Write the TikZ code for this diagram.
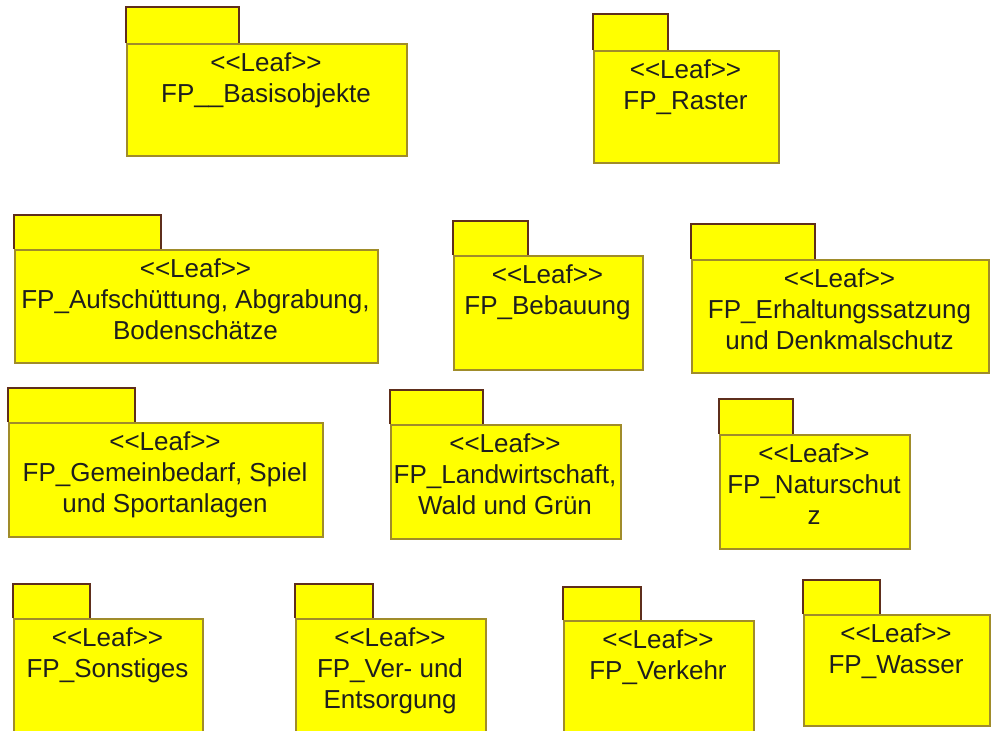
\documentclass[tikz,border=0pt]{standalone}
\usepackage{fontspec}
\setmainfont[Ligatures=NoCommon]{Liberation Sans}
\definecolor{pkgfill}{HTML}{FFFF00}
\definecolor{tabline}{HTML}{5E2E1C}
\definecolor{bodyline}{HTML}{A08C2A}
\definecolor{pkgtext}{HTML}{1E1E1E}
\tikzset{
  tabstyle/.style={fill=pkgfill, draw=tabline, line width=1.6pt},
  bodystyle/.style={fill=pkgfill, draw=bodyline, line width=1.6pt, rectangle, inner sep=0pt},
  labelstyle/.style={align=center, inner sep=0pt, text=pkgtext,
    font=\fontsize{26}{31}\selectfont},
}
\newcommand\leafst{<{}<Leaf>{}>}
% #1 name, #2 left, #3 tab top, #4 tab right, #5 body top, #6 body right, #7 body bottom, #8 text
\newcommand\umlpkg[8]{%
  \filldraw[tabstyle] (#2,#5) -- (#2,#3) -- (#4,#3) -- (#4,#5);
  \node[bodystyle, anchor=north west, minimum width={(#6-#2)*1pt}, minimum height={(#7-#5)*1pt}] (#1) at (#2,#5) {};
  \node[labelstyle, anchor=north] (#1-label) at ({(#2+#6)/2},#5+9) {#8};
}
\begin{document}
\begin{tikzpicture}[x=1pt,y=-1pt]
\useasboundingbox (0,0) rectangle (991,731);
\fill[white] (0,0) rectangle (991,731);
\umlpkg{basis}{126}{7}{239}{43}{406}{155}{\leafst\\FP\_\_Basisobjekte}
\umlpkg{raster}{593}{14}{668}{50}{778}{162}{\leafst\\FP\_Raster}
\umlpkg{aufsch}{14}{215}{161}{249}{377}{362}{\leafst\\FP\_Aufschüttung, Abgrabung,\\Bodenschätze}
\umlpkg{bebau}{453}{221}{528}{255}{642}{369}{\leafst\\FP\_Bebauung}
\umlpkg{erhalt}{691}{224}{815}{259}{988}{372}{\leafst\\FP\_Erhaltungssatzung\\und Denkmalschutz}
\umlpkg{gemein}{8}{388}{135}{422}{322}{536}{\leafst\\FP\_Gemeinbedarf, Spiel\\und Sportanlagen}
\umlpkg{landw}{390}{390}{483}{424}{620}{538}{\leafst\\FP\_Landwirtschaft,\\Wald und Grün}
\umlpkg{natur}{719}{399}{793}{434}{909}{548}{\leafst\\FP\_Naturschut\\z}
\umlpkg{sonst}{13}{584}{90}{618}{202}{736}{\leafst\\FP\_Sonstiges}
\umlpkg{verent}{295}{584}{373}{618}{485}{736}{\leafst\\FP\_Ver- und\\Entsorgung}
\umlpkg{verkehr}{563}{587}{641}{620}{753}{736}{\leafst\\FP\_Verkehr}
\umlpkg{wasser}{803}{580}{880}{614}{989}{725}{\leafst\\FP\_Wasser}
\end{tikzpicture}
\end{document}
